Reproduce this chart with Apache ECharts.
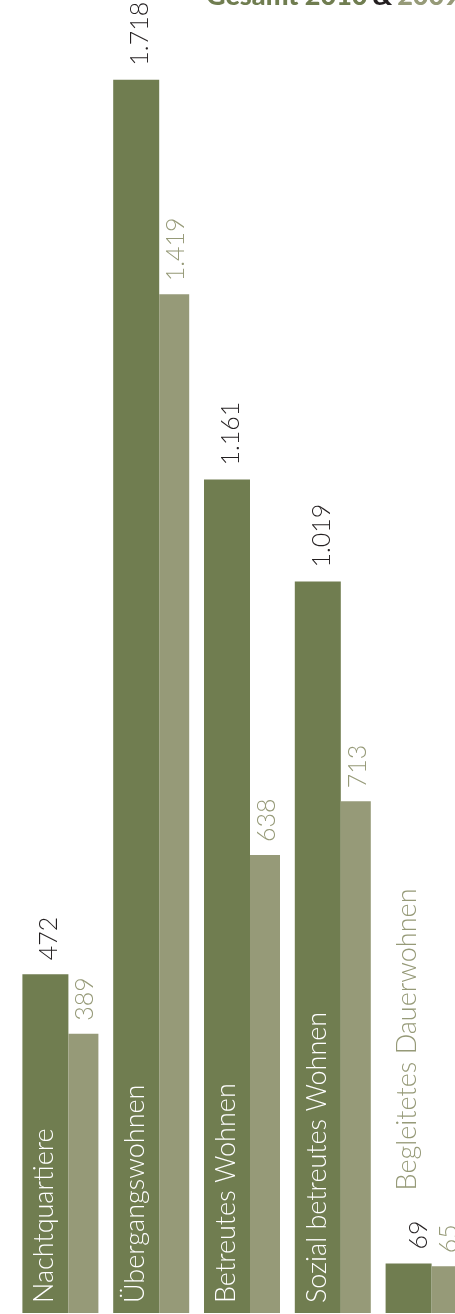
<html lang="de">
<head>
    <meta charset="UTF-8">
    <script src="https://cdn.jsdelivr.net/npm/echarts@6/dist/echarts.min.js"></script>
    <style type="text/css">
        html, body {
            height: 100%;
            width: 100%;
            margin: 0;
            padding: 0;
            overflow: hidden;
            background: #fff;
        }
        /* die Grafik ist rechts angeschnitten */
        #main {
            height: 100%;
            width: 469px;
        }
    </style>
    <title>Gesamt 2010 & 2009</title>
</head>
<body>
<div id="main"></div>
<script>
    // Daten
    var categories = ['Nachtquartiere', 'Übergangswohnen', 'Betreutes Wohnen', 'Sozial betreutes Wohnen', 'Begleitetes Dauerwohnen'];
    var werte2010 = [472, 1718, 1161, 1019, 69];
    var werte2009 = [389, 1419, 638, 713, 65];

    var dunkel = '#707d50';
    var hell = '#969a78';
    var schrift = 'Lato, "Open Sans", sans-serif';

    function zahl(v) {
        // 1718 -> 1.718
        return String(v).replace(/\B(?=(\d{3})+(?!\d))/g, '.');
    }

    var myChart = echarts.init(document.getElementById('main'));

    option = {
        animation: false,
        title: {
            text: '{a|Gesamt 2010} {b|&} {c|2009}',
            left: 201,
            top: -22,
            textStyle: {
                rich: {
                    a: {fontFamily: schrift, fontWeight: 900, fontSize: 27, color: dunkel},
                    b: {fontFamily: schrift, fontWeight: 900, fontSize: 27, color: '#231f20'},
                    c: {fontFamily: schrift, fontWeight: 900, fontSize: 27, color: hell}
                }
            }
        },
        grid: {left: 15, top: 0, right: 0, height: 1313},
        xAxis: {
            type: 'category',
            data: categories,
            axisLine: {show: false},
            axisTick: {show: false},
            axisLabel: {show: false}
        },
        yAxis: {
            type: 'value',
            min: 0,
            max: 1829,
            show: false,
            splitLine: {show: false}
        },
        series: [
            {
                name: '2010',
                type: 'bar',
                data: werte2010,
                barWidth: 46,
                barGap: 0,
                itemStyle: {color: dunkel},
                label: {
                    show: true,
                    position: 'top',
                    distance: 14,
                    rotate: 90,
                    align: 'left',
                    verticalAlign: 'middle',
                    offset: [0, 4],
                    fontFamily: schrift,
                    fontWeight: 300,
                    fontSize: 25,
                    color: '#231f20',
                    formatter: function (p) {
                        if (p.dataIndex === 4) {
                            return '{v|' + zahl(p.value) + '}{c|' + p.name + '}';
                        }
                        return zahl(p.value);
                    },
                    rich: {
                        v: {fontFamily: schrift, fontWeight: 300, fontSize: 25, color: '#231f20', verticalAlign: 'bottom'},
                        c: {fontFamily: schrift, fontWeight: 300, fontSize: 27, color: hell, verticalAlign: 'bottom', padding: [0, 0, 10, 30]}
                    }
                }
            },
            {
                name: '2009',
                type: 'bar',
                data: werte2009,
                barWidth: 30,
                itemStyle: {color: hell},
                label: {
                    show: true,
                    position: 'top',
                    distance: 13,
                    rotate: 90,
                    align: 'left',
                    verticalAlign: 'middle',
                    offset: [0, 2],
                    fontFamily: schrift,
                    fontWeight: 300,
                    fontSize: 25,
                    color: hell,
                    formatter: function (p) {
                        return zahl(p.value);
                    }
                }
            },
            {
                // Kategorienamen unten in den dunklen Balken
                type: 'custom',
                data: categories.map(function (c, i) { return [i]; }),
                z: 5,
                renderItem: function (params, api) {
                    var i = api.value(0);
                    if (i === 4) return;
                    var p = api.coord([i, 0]);
                    return {
                        type: 'text',
                        x: p[0] - 16,
                        y: p[1] - 10,
                        rotation: Math.PI / 2,
                        style: {
                            text: categories[i],
                            fill: '#fff',
                            font: '300 27px ' + schrift,
                            align: 'left',
                            verticalAlign: 'middle'
                        }
                    };
                }
            }
        ]
    };

    myChart.setOption(option);
</script>
</body>
</html>
